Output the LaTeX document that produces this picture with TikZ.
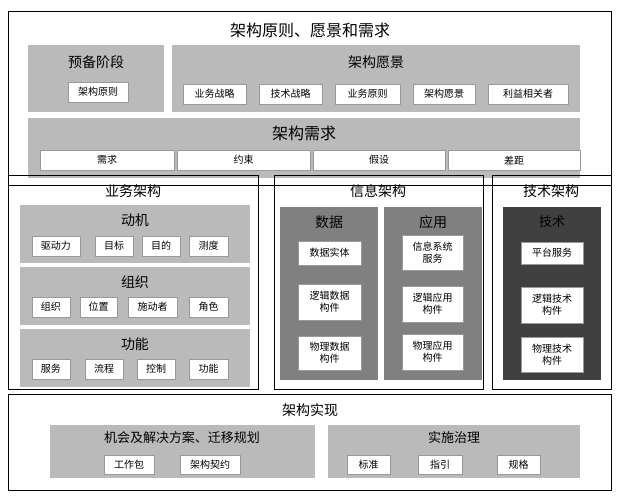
\documentclass[tikz,border=0pt]{standalone}
\usepackage{fontspec}
\setmainfont{Noto Sans CJK SC}
\newcommand\rbox[6]{%
  \path[#1] (#2,#3) rectangle (#4,#5);%
  \node[itxt] at ({(#2+#4)/2},{(#3+#5)/2}) {#6};}
\begin{document}
\begin{tikzpicture}[x=1pt,y=-1pt,
  obox/.style={draw=black,line width=1pt},
  lgray/.style={fill=black!27},
  mgray/.style={fill=black!50},
  dgray/.style={fill=black!75},
  item/.style={fill=white,draw=black!40,line width=0.3pt},
  itxt/.style={inner sep=0pt,font=\fontsize{10}{12}\selectfont,align=center},
  ttl/.style={font=\fontsize{16}{18}\selectfont},
  sttl/.style={font=\fontsize{14}{16}\selectfont},
  mttl/.style={font=\fontsize{13}{15}\selectfont}]
\useasboundingbox[fill=white] (0,0) rectangle (625,500);
% top
\rbox{lgray}{28}{45}{164}{112}{}
\node[sttl] (tprep) at (96,62) {预备阶段};
\rbox{item}{68}{82}{128}{102}{架构原则}
\rbox{lgray}{172}{45}{580}{112}{}
\node[sttl] (tvis) at (376,62) {架构愿景};
\rbox{item}{183}{84}{246}{104}{业务战略}
\rbox{item}{259}{84}{322}{104}{技术战略}
\rbox{item}{335}{84}{400}{104}{业务原则}
\rbox{item}{413}{84}{475}{104}{架构愿景}
\rbox{item}{488}{84}{568}{104}{利益相关者}
\rbox{lgray}{28}{118}{580}{178}{}
\node[ttl] (treq) at (304,133) {架构需求};
\rbox{item}{40}{150}{174}{170}{需求}
\rbox{item}{177}{150}{310}{170}{约束}
\rbox{item}{313}{150}{445}{170}{假设}
\rbox{item}{448}{150}{580}{170}{差距}
\rbox{obox}{8}{12}{611}{186}{}
\node[ttl] (ttop) at (310,30) {架构原则、愿景和需求};
% business
\rbox{obox}{8}{176}{258}{390}{}
\node[sttl] (tbus) at (133,191) {业务架构};
\rbox{lgray}{20}{205}{250}{263}{}
\node[sttl] (tmot) at (135,220) {动机};
\rbox{item}{32}{236}{80}{256}{驱动力}
\rbox{item}{95}{236}{133}{256}{目标}
\rbox{item}{142}{236}{180}{256}{目的}
\rbox{item}{189}{236}{228}{256}{测度}
\rbox{lgray}{20}{267}{250}{325}{}
\node[sttl] (torg) at (135,282) {组织};
\rbox{item}{32}{297}{70}{317}{组织}
\rbox{item}{80}{297}{117}{317}{位置}
\rbox{item}{128}{297}{177}{317}{施动者}
\rbox{item}{189}{297}{228}{317}{角色}
\rbox{lgray}{20}{329}{250}{387}{}
\node[sttl] (tfun) at (135,344) {功能};
\rbox{item}{32}{359}{70}{379}{服务}
\rbox{item}{85}{359}{123}{379}{流程}
\rbox{item}{137}{359}{175}{379}{控制}
\rbox{item}{189}{359}{228}{379}{功能}
% info
\rbox{obox}{274}{176}{483}{390}{}
\node[sttl] (tinf) at (378,191) {信息架构};
\rbox{mgray}{280}{207}{378}{380}{}
\node[sttl] (tdat) at (329,222) {数据};
\rbox{item}{298}{241}{361}{265}{数据实体}
\rbox{item}{298}{284}{361}{320}{逻辑数据\\构件}
\rbox{item}{298}{336}{361}{370}{物理数据\\构件}
\rbox{mgray}{384}{207}{482}{380}{}
\node[sttl] (tapp) at (433,222) {应用};
\rbox{item}{402}{235}{463}{270}{信息系统\\服务}
\rbox{item}{402}{286}{463}{322}{逻辑应用\\构件}
\rbox{item}{402}{334}{463}{370}{物理应用\\构件}
% tech
\rbox{obox}{492}{176}{611}{390}{}
\node[sttl] (ttec) at (551,191) {技术架构};
\rbox{dgray}{503}{207}{601}{380}{}
\node[mttl] (ttk) at (552,222) {技术};
\rbox{item}{521}{242}{583}{264}{平台服务}
\rbox{item}{521}{287}{583}{323}{逻辑技术\\构件}
\rbox{item}{521}{337}{583}{372}{物理技术\\构件}
% realization
\rbox{obox}{8}{395}{611}{490}{}
\node[sttl] (trea) at (310,410) {架构实现};
\rbox{lgray}{50}{425}{315}{478}{}
\node[mttl] (topp) at (182,438) {机会及解决方案、迁移规划};
\rbox{item}{104}{455}{154}{474}{工作包}
\rbox{item}{180}{455}{240}{474}{架构契约}
\rbox{lgray}{328}{425}{580}{478}{}
\node[mttl] (tgov) at (454,438) {实施治理};
\rbox{item}{347}{455}{390}{474}{标准}
\rbox{item}{418}{455}{462}{474}{指引}
\rbox{item}{497}{455}{540}{474}{规格}
\end{tikzpicture}
\end{document}
